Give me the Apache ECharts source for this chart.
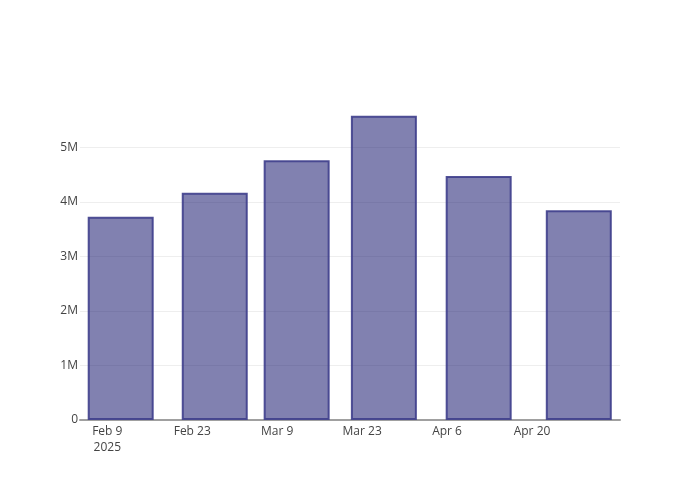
<!DOCTYPE html>
<html>
<head>
<meta charset="utf-8">
<script src="https://cdn.jsdelivr.net/npm/echarts@6/dist/echarts.min.js"></script>
<style>html,body{margin:0;padding:0;background:#fff}#c{width:700px;height:500px}</style>
</head>
<body>
<div id="c"></div>
<script>
// Data
const periods = ["2025-02-11T05:00", "2025-02-26T17:00", "2025-03-12T05:00", "2025-03-26T14:00", "2025-04-11T05:00", "2025-04-27T17:00"];
const values = [3727000, 4167000, 4760000, 5579000, 4473000, 3844000];
const tickDates = ["2025-02-09", "2025-02-23", "2025-03-09", "2025-03-23", "2025-04-06", "2025-04-20"];
const tickLabels = ["Feb 9\n2025", "Feb 23", "Mar 9", "Mar 23", "Apr 6", "Apr 20"];
const yTickLabels = ["0", "1M", "2M", "3M", "4M", "5M"];

const DAY = 86400000;
function toUTC(s) {
  const [d, t] = s.split("T");
  const [y, m, dd] = d.split("-").map(Number);
  let h = 0, mi = 0;
  if (t) { [h, mi] = t.split(":").map(Number); }
  return Date.UTC(y, m - 1, dd, h, mi);
}
const origin = toUTC(tickDates[0]);
const toDays = s => (toUTC(s) - origin) / DAY;
const labelMap = {};
tickDates.forEach((d, i) => { labelMap[Math.round(toDays(d))] = tickLabels[i]; });

const chart = echarts.init(document.getElementById('c'), null, {renderer: 'canvas'});
chart.setOption({
  animation: false,
  backgroundColor: '#fff',
  textStyle: {fontFamily: 'Open Sans'},
  grid: {left: 80, right: 80, top: 100, bottom: 80, containLabel: false},
  xAxis: {
    type: 'value',
    min: -4.5,
    max: 84.5,
    interval: 0.5,
    axisLine: {show: true, onZero: false, lineStyle: {color: '#a0a0a0', width: 2}},
    axisTick: {show: false},
    splitLine: {show: false},
    axisLabel: {
      color: '#444', fontSize: 12, fontFamily: 'Open Sans', margin: 4, lineHeight: 16,
      interval: 0, hideOverlap: false,
      showMinLabel: true, showMaxLabel: true,
      formatter: v => {
        const k = Math.round(v);
        if (Math.abs(v - k) > 1e-6) return '';
        return labelMap[k] || '';
      }
    }
  },
  yAxis: {
    type: 'value',
    min: 0,
    max: 5866000,
    interval: 1000000,
    axisLine: {show: false},
    axisTick: {show: false},
    splitLine: {show: true, showMaxLine: false, lineStyle: {color: '#eeeeee', width: 1}},
    axisLabel: {
      color: '#444', fontSize: 12, fontFamily: 'Open Sans', margin: 2,
      showMaxLabel: false,
      formatter: v => {
        const i = Math.round(v / 1000000);
        if (Math.abs(v - i * 1000000) > 1) return '';
        return yTickLabels[i] !== undefined ? yTickLabels[i] : '';
      }
    }
  },
  series: [{
    type: 'bar',
    barWidth: 66,
    data: periods.map((p, i) => [toDays(p), values[i]]),
    itemStyle: {
      color: 'rgba(25,25,112,0.55)',
      borderColor: 'rgba(62,62,140,0.9)',
      borderWidth: 2
    }
  }]
});
</script>
</body>
</html>
